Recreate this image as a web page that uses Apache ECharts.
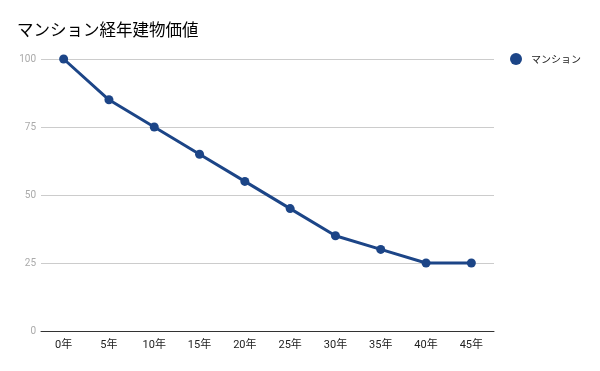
<!DOCTYPE html>
<html><head><meta charset="utf-8">
<script src="https://cdn.jsdelivr.net/npm/echarts@6/dist/echarts.min.js"></script>
<style>html,body{margin:0;padding:0;background:#fff}#c{width:600px;height:371px}</style>
</head><body><div id="c"></div>
<script>
const categories = ['0年','5年','10年','15年','20年','25年','30年','35年','40年','45年'];
const values = [100, 85, 75, 65, 55, 45, 35, 30, 25, 25];
const seriesName = 'マンション';
const titleText = 'マンション経年建物価値';

const chart = echarts.init(document.getElementById('c'), null, {renderer:'canvas'});
chart.setOption({
  animation: false,
  title: {text: titleText, left: 12, top: 16, textStyle: {fontSize: 16.5, fontWeight: 'normal', color: '#000', fontFamily: '"Noto Sans CJK JP", sans-serif'}},
  legend: {right: 14, top: 48, orient: 'vertical', icon: 'circle', itemWidth: 12, itemHeight: 12, itemGap: 5,
    textStyle: {fontSize: 10, color: '#222', padding: [0,0,0,4], fontFamily: '"Noto Sans CJK JP", sans-serif'}, data: [seriesName]},
  grid: {left: 41, right: 106, top: 59, bottom: 40},
  xAxis: {type: 'category', data: categories, boundaryGap: true,
    axisLine: {lineStyle: {color: '#333', width: 1}}, axisTick: {show: false},
    axisLabel: {color: '#222', fontSize: 11, margin: 9, fontFamily: 'Roboto, "Noto Sans CJK JP", sans-serif'}},
  yAxis: {type: 'value', min: 0, max: 100, interval: 25,
    axisLine: {show: false}, axisTick: {show: false},
    axisLabel: {color: '#aaa', fontSize: 10, margin: 5, fontFamily: 'Roboto, sans-serif'},
    splitLine: {lineStyle: {color: '#ccc', width: 1}}},
  series: [{name: seriesName, type: 'line', data: values, symbol: 'circle', symbolSize: 9,
    itemStyle: {color: '#1c4587'}, lineStyle: {color: '#1c4587', width: 3}}]
});
</script></body></html>
